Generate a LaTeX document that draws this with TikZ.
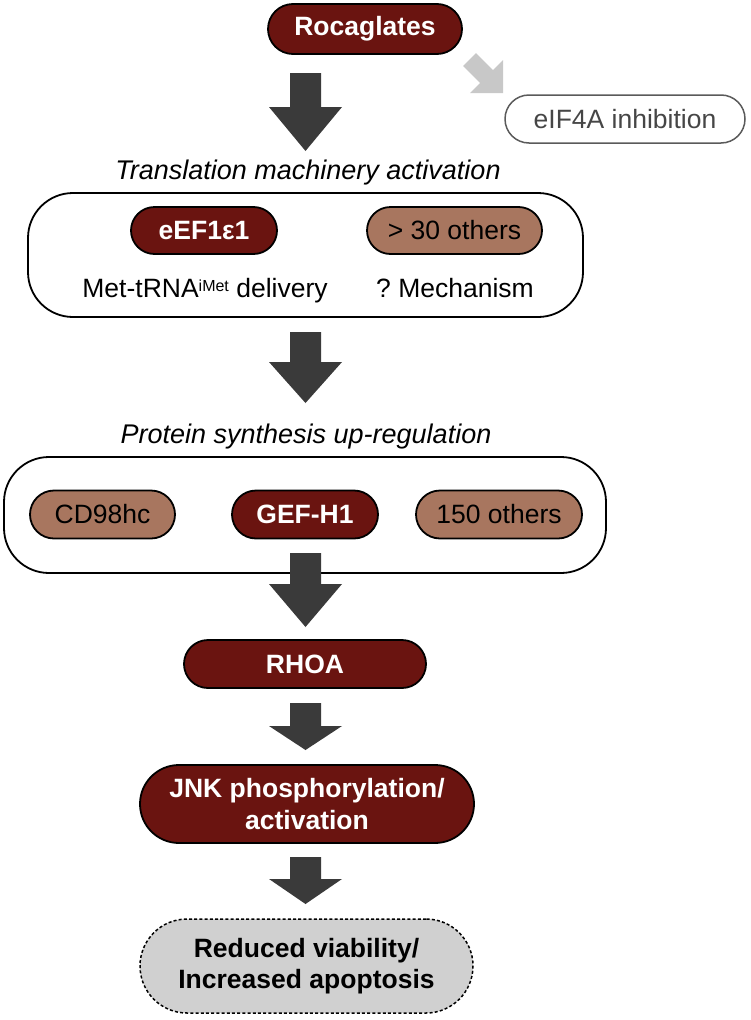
\documentclass[tikz,border=0pt]{standalone}
\usepackage{fontspec}
\setmainfont{Liberation Sans}
\usetikzlibrary{calc}
\definecolor{darkred}{RGB}{106,20,16}
\definecolor{tan}{RGB}{168,118,95}
\definecolor{arrowdark}{RGB}{58,58,58}
\definecolor{arrowlight}{RGB}{200,200,200}
\definecolor{endfill}{RGB}{208,208,208}
\definecolor{greyline}{RGB}{90,90,90}
\definecolor{greytext}{RGB}{70,70,70}
\newcommand\blockarrow[3]{%
  \fill[arrowdark] ($(#1)+(-15.5,0)$) -- ($(#1)+(15.5,0)$) -- ($(#2)+(15.5,-#3)$) -- ($(#2)+(36.5,-#3)$) -- (#2) -- ($(#2)+(-36.5,-#3)$) -- ($(#2)+(-15.5,-#3)$) -- cycle;}
\frenchspacing
\begin{document}
\begin{tikzpicture}[x=1pt,y=-1pt,
  every node/.style={font=\fontsize{26.5pt}{31.5pt}\selectfont\frenchspacing, inner sep=0pt, align=center},
  redpill/.style={draw=black, line width=1.8pt, fill=darkred, text=white, font=\fontsize{26.5pt}{31.5pt}\selectfont\bfseries},
  tanpill/.style={draw=black, line width=1.8pt, fill=tan, text=black},
  groupbox/.style={draw=black, line width=1.8pt, rounded corners=45pt},
  titletext/.style={font=\fontsize{27pt}{31.5pt}\selectfont\itshape, anchor=base},
  plaintext/.style={anchor=base}]
\useasboundingbox (0,0) rectangle (750,1020);

% top
\node[redpill, minimum width=194pt, minimum height=50pt, rounded corners=25pt] (roc) at (365,29) {Rocaglates};
\node[draw=greyline, line width=1.5pt, text=greytext, minimum width=240pt, minimum height=48pt, rounded corners=24pt] (eif) at (625,119) {eIF4A inhibition};

% gray diagonal arrow
\coordinate (gs) at (469.5,59.5);
\coordinate (gt) at (503,93);
\fill[arrowlight] ($(gs)+(6.4,-6.4)$) -- ($(gt)+(-10.1,-22.9)$) -- ($(gt)+(0,-33)$) -- (gt) -- ($(gt)+(-33,0)$) -- ($(gt)+(-22.9,-10.1)$) -- ($(gs)+(-6.4,6.4)$) -- cycle;

% arrow 1
\coordinate (a1s) at (305.5,73);
\coordinate (a1e) at (305.5,151);
\blockarrow{a1s}{a1e}{44}

\node[titletext] (t1) at (308,179) {Translation machinery activation};

\node[groupbox, minimum width=555pt, minimum height=124pt] (box1) at (305.5,255) {};
\node[redpill, minimum width=146pt, minimum height=47pt, rounded corners=23.5pt] (eef) at (204,230.5) {eEF1ε1};
\node[tanpill, minimum width=175pt, minimum height=47pt, rounded corners=23.5pt] (o30) at (454.5,230.5) {> 30 others};
\node[plaintext] (met) at (205,297) {Met-tRNA\raisebox{5.5pt}{\fontsize{16pt}{16pt}\selectfont iMet} delivery};
\node[plaintext] (mech) at (455,297) {? Mechanism};

% arrow 2
\coordinate (a2s) at (305.5,332);
\coordinate (a2e) at (305.5,403);
\blockarrow{a2s}{a2e}{41}

\node[titletext] (t2) at (306,443) {Protein synthesis up-regulation};

\node[groupbox, minimum width=602pt, minimum height=116pt] (box2) at (305,515) {};
\node[tanpill, minimum width=145pt, minimum height=48pt, rounded corners=24pt] (cd) at (102.5,514.5) {CD98hc};
\node[redpill, minimum width=146pt, minimum height=48pt, rounded corners=24pt] (gef) at (305,514.5) {GEF-H1};
\node[tanpill, minimum width=166pt, minimum height=48pt, rounded corners=24pt] (o150) at (499,514.5) {150 others};

% arrow 3
\coordinate (a3s) at (305.5,553);
\coordinate (a3e) at (305.5,627);
\blockarrow{a3s}{a3e}{43}

\node[redpill, minimum width=242pt, minimum height=48pt, rounded corners=24pt] (rhoa) at (305,664) {RHOA};

% arrow 4
\coordinate (a4s) at (305.5,703);
\coordinate (a4e) at (305.5,750);
\blockarrow{a4s}{a4e}{24}

\node[redpill, minimum width=334pt, minimum height=78pt, rounded corners=39pt] (jnk) at (307,804) {JNK phosphorylation/\\activation};

% arrow 5
\coordinate (a5s) at (305.5,857);
\coordinate (a5e) at (305.5,904);
\blockarrow{a5s}{a5e}{25}

\node[draw=black, line width=1.5pt, dash pattern=on 3pt off 2.2pt, fill=endfill, font=\fontsize{26.5pt}{31.5pt}\selectfont\bfseries, minimum width=333pt, minimum height=94pt, rounded corners=47pt] (red) at (306.5,966) {Reduced viability/\\Increased apoptosis};
\end{tikzpicture}
\end{document}
